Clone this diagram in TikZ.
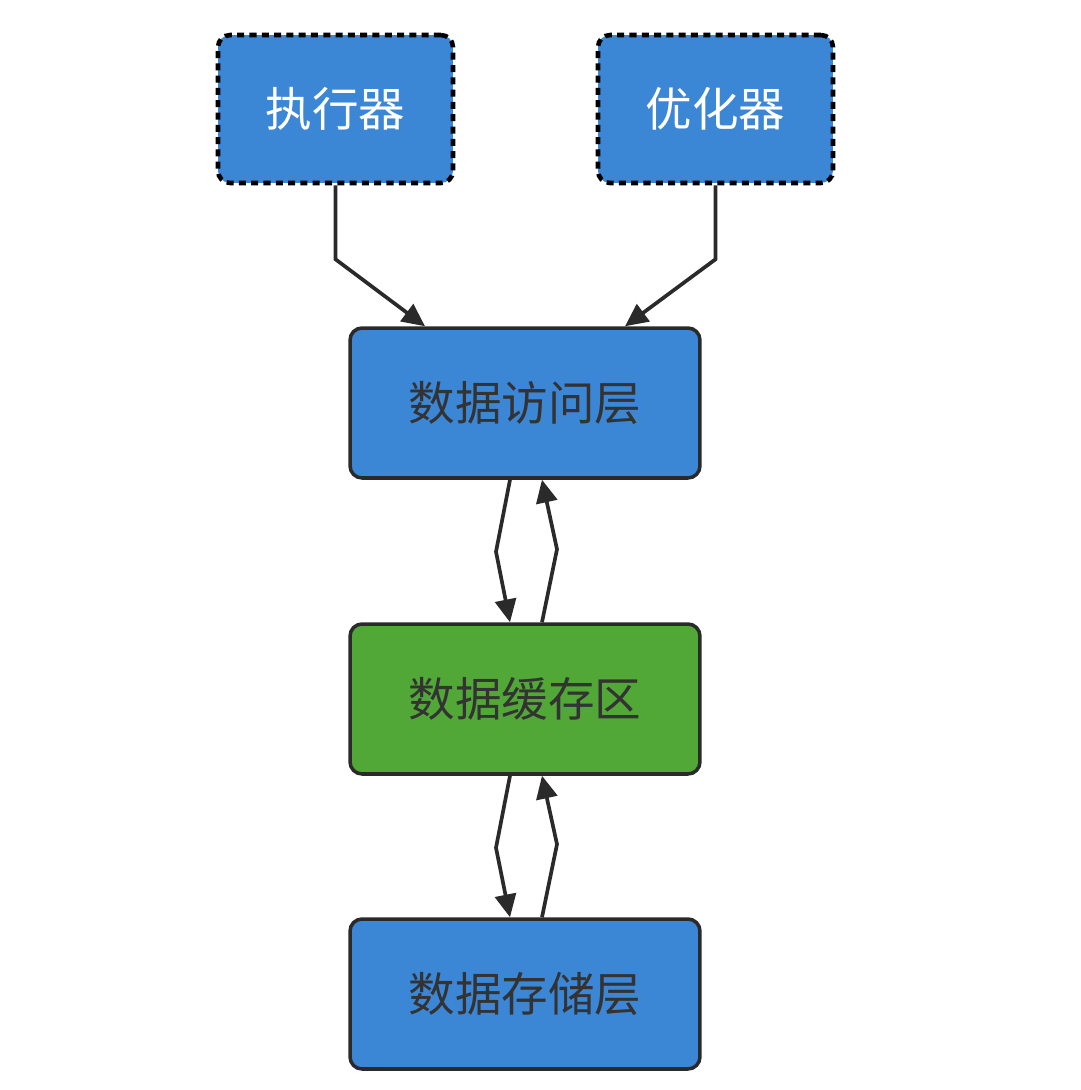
\documentclass[tikz,border=0pt]{standalone}
\usepackage{fontspec}
\setmainfont{Noto Sans CJK SC}
\usetikzlibrary{arrows.meta}

\definecolor{boxblue}{HTML}{3C86D6}
\definecolor{boxgreen}{HTML}{52A836}
\definecolor{edgegray}{HTML}{2A2A2A}
\definecolor{textgray}{HTML}{333333}

\tikzset{
  layer/.style={draw=edgegray, line width=2pt, rounded corners=0.24cm,
    minimum width=7cm, minimum height=3cm, text=textgray,
    font=\fontsize{26.5}{30}\selectfont},
  module/.style={draw=black, line width=2.6pt, dash pattern=on 4pt off 3pt,
    rounded corners=0.24cm, fill=boxblue, minimum width=4.7cm,
    minimum height=2.96cm, text=white, font=\fontsize{26.5}{30}\selectfont},
  flow/.style={draw=edgegray, line width=2.1pt,
    -{Triangle[length=13pt, width=12pt]}},
}

\begin{document}
\begin{tikzpicture}[x=0.02cm, y=-0.02cm]
\useasboundingbox (0,0) rectangle (1080,1090);
% upper modules
\node[module] (exec) at (335.5,109) {执行器};
\node[module] (opt) at (715.5,109) {优化器};
% storage layers
\node[layer, fill=boxblue] (access) at (525,403) {数据访问层};
\node[layer, fill=boxgreen] (cache) at (525,699) {数据缓存区};
\node[layer, fill=boxblue] (store) at (525,994) {数据存储层};
% calls into the access layer
\draw[flow] (exec.south) -- ++(0,74) -- ([xshift=-2cm]access.north);
\draw[flow] (opt.south) -- ++(0,74) -- ([xshift=2cm]access.north);
% access <-> cache
\draw[flow] ([xshift=-0.3cm]access.south) -- ++(-14,72) -- ([xshift=-0.3cm]cache.north);
\draw[flow] ([xshift=0.34cm]cache.north) -- ++(15,-73) -- ([xshift=0.34cm]access.south);
% cache <-> store
\draw[flow] ([xshift=-0.3cm]cache.south) -- ++(-14,72) -- ([xshift=-0.3cm]store.north);
\draw[flow] ([xshift=0.34cm]store.north) -- ++(15,-73) -- ([xshift=0.34cm]cache.south);
\end{tikzpicture}
\end{document}
